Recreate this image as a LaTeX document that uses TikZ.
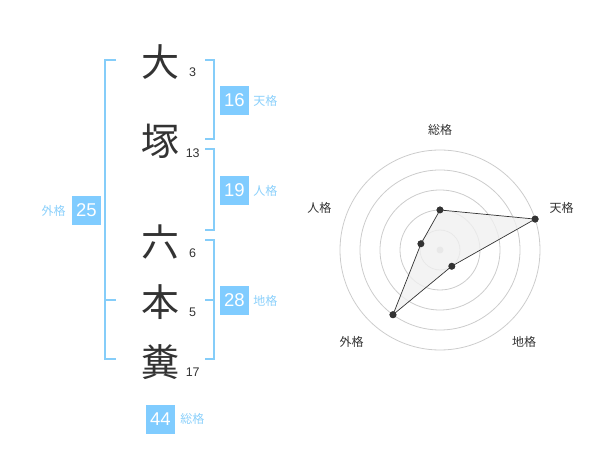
\documentclass[tikz,border=0pt]{standalone}
\usepackage{fontspec}
\setmainfont{Liberation Sans}
\newfontfamily\jpfont{Noto Sans CJK JP}
\usepackage{tikz}
\usetikzlibrary{positioning}
\definecolor{clrBlue}{HTML}{80CCFF}
\definecolor{clrLine}{HTML}{85CDF9}
\definecolor{clrLbl}{HTML}{8BD0FB}
\definecolor{clrText}{HTML}{333333}
\definecolor{clrRing}{HTML}{CCCCCC}
\tikzstyle{kanji}=[anchor=center, inner sep=0, text=clrText, font=\jpfont\fontsize{38}{40}\selectfont]
\tikzstyle{strokes}=[anchor=center, inner sep=0, text=clrText, font=\fontsize{12.5}{14}\selectfont]
\tikzstyle{score}=[fill=clrBlue, text=white, inner sep=0, minimum width=29pt, minimum height=29pt, font=\fontsize{18.5}{20}\selectfont]
\tikzstyle{kaku}=[inner sep=0, text=clrLbl, font=\jpfont\fontsize{12}{14}\selectfont]
\tikzstyle{bracket}=[clrLine, line width=1.8pt]
\tikzstyle{ring}=[clrRing, line width=0.8pt]
\tikzstyle{axis_lbl}=[inner sep=0, text=clrText, font=\jpfont\fontsize{12}{14}\selectfont]
\tikzstyle{vertex}=[circle, fill=clrText, inner sep=0, minimum size=7pt]

\begin{document}
\begin{tikzpicture}[x=1pt, y=-1pt]
		\useasboundingbox (0,0) rectangle (600,470) ;

		% name
		\node[kanji] (A) at (160,61.7) {大} ;
		\node[kanji] (B) at (160,141.7) {塚} ;
		\node[kanji] (C) at (160,241.7) {六} ;
		\node[kanji] (D) at (160,301.7) {本} ;
		\node[kanji] (E) at (160,361.7) {糞} ;

		\node[strokes] (nA) at (192.7,72.7) {3} ;
		\node[strokes] (nB) at (192.7,152.7) {13} ;
		\node[strokes] (nC) at (192.7,252.7) {6} ;
		\node[strokes] (nD) at (192.7,312.7) {5} ;
		\node[strokes] (nE) at (192.7,372.7) {17} ;

		% brackets
		\draw[bracket] (116,60) -- (105,60) -- (105,359.3) -- (116,359.3) ;
		\draw[bracket] (105,300) -- (116,300) ;
		\draw[bracket] (205,60) -- (214.3,60) -- (214.3,139.3) -- (205,139.3) ;
		\draw[bracket] (205,149.3) -- (214.3,149.3) -- (214.3,230) -- (205,230) ;
		\draw[bracket] (205,240) -- (214.3,240) -- (214.3,359.3) -- (205,359.3) ;
		\draw[bracket] (205,300) -- (214.3,300) ;

		% scores
		\node[score] (ten) at (234.5,100.5) {16} ;
		\node[kaku, right=4pt of ten] (tenL) {天格} ;
		\node[score] (jin) at (234.5,190.5) {19} ;
		\node[kaku, right=4pt of jin] (jinL) {人格} ;
		\node[score] (chi) at (234.5,300.5) {28} ;
		\node[kaku, right=4pt of chi] (chiL) {地格} ;
		\node[score] (gai) at (86.5,210.5) {25} ;
		\node[kaku, left=6pt of gai] (gaiL) {外格} ;
		\node[score] (sou) at (160.5,419) {44} ;
		\node[kaku, right=5pt of sou] (souL) {総格} ;

		% radar
		\begin{scope}[shift={(440,250)}, yscale=-1]
			\foreach \r in {20,40,60,80,100}
				\draw[ring] (0,0) circle (\r pt) ;
			\fill[clrRing] (0,0) circle (3.5pt) ;

			\node[vertex] (pS) at (90:40) {} ;
			\node[vertex] (pT) at (18:100) {} ;
			\node[vertex] (pC) at (-54:20) {} ;
			\node[vertex] (pG) at (234:80) {} ;
			\node[vertex] (pJ) at (162:20) {} ;
			\filldraw[fill=black!6, fill opacity=0.8, draw=clrText, line width=0.7pt]
				(pS.center) -- (pT.center) -- (pC.center) -- (pG.center) -- (pJ.center) -- cycle ;
			\foreach \p in {pS,pT,pC,pG,pJ}
				\fill[clrText] (\p) circle (3.4pt) ;

			\node[axis_lbl] (lS) at (0,120) {総格} ;
			\node[axis_lbl] (lT) at (121.7,42) {天格} ;
			\node[axis_lbl] (lC) at (84,-91.7) {地格} ;
			\node[axis_lbl] (lG) at (-88.3,-91.7) {外格} ;
			\node[axis_lbl] (lJ) at (-120.7,42) {人格} ;
		\end{scope}

	\end{tikzpicture}
\end{document}
